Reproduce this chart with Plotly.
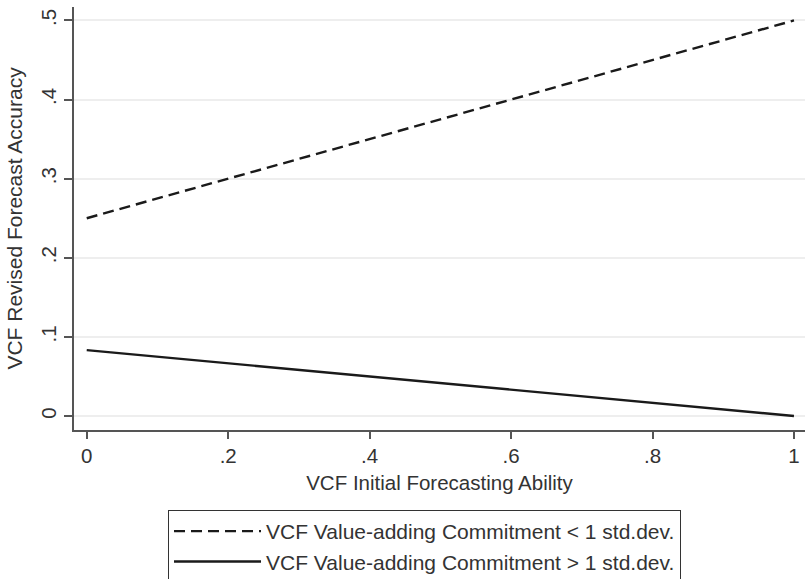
import plotly.graph_objects as go

x_vals = [0, 1]
y_low = [0.25, 0.5]        # Commitment < 1 std.dev.
y_high = [0.0833, 0.0]     # Commitment > 1 std.dev.
series_names = ["VCF Value-adding Commitment < 1 std.dev.",
                "VCF Value-adding Commitment > 1 std.dev."]
x_ticks = [0, 0.2, 0.4, 0.6, 0.8, 1]
x_ticklabels = ["0", ".2", ".4", ".6", ".8", "1"]
y_ticks = [0, 0.1, 0.2, 0.3, 0.4, 0.5]
y_ticklabels = ["0", ".1", ".2", ".3", ".4", ".5"]

FONT = "Liberation Sans, Arial, sans-serif"
TXT = "#333333"
FS = 20.5

fig = go.Figure()
fig.add_trace(go.Scatter(x=x_vals, y=y_low, mode="lines", name=series_names[0],
                         line=dict(color="#1a1a1a", width=2.4, dash="11px,6px")))
fig.add_trace(go.Scatter(x=x_vals, y=y_high, mode="lines", name=series_names[1],
                         line=dict(color="#1a1a1a", width=2.4)))

fig.update_layout(
    width=805, height=579,
    margin=dict(l=74, r=0, t=7, b=149, autoexpand=False),
    paper_bgcolor="white", plot_bgcolor="white",
    font=dict(family=FONT, size=FS, color=TXT),
    showlegend=True,
    legend=dict(x=0.1286, y=-0.1891, xanchor="left", yanchor="top",
                bordercolor="#333333", borderwidth=1, bgcolor="white",
                itemwidth=87, font=dict(size=21, color=TXT),
                tracegroupgap=0),
    xaxis=dict(range=[-0.018, 1.0156], tickvals=x_ticks, ticktext=x_ticklabels,
               showgrid=False, zeroline=False, showline=True, linecolor="#555555",
               linewidth=1.5, ticks="outside", ticklen=7, tickcolor="#555555",
               tickwidth=1.5,
               title=dict(text="VCF Initial Forecasting Ability", standoff=9,
                          font=dict(size=20.5))),
    yaxis=dict(range=[-0.0177, 0.517], tickvals=y_ticks, ticktext=y_ticklabels,
               tickangle=-90, showgrid=True, gridcolor="#eeeeee", gridwidth=1.5,
               zeroline=False, showline=True, linecolor="#555555", linewidth=1.5,
               ticks="outside", ticklen=8, tickcolor="#555555", tickwidth=1.5,
               title=dict(text="VCF Revised Forecast Accuracy", standoff=9,
                          font=dict(size=21))),
)

fig.write_html("out.html", config={"displayModeBar": False},
               post_script="document.body.style.margin='0';")
